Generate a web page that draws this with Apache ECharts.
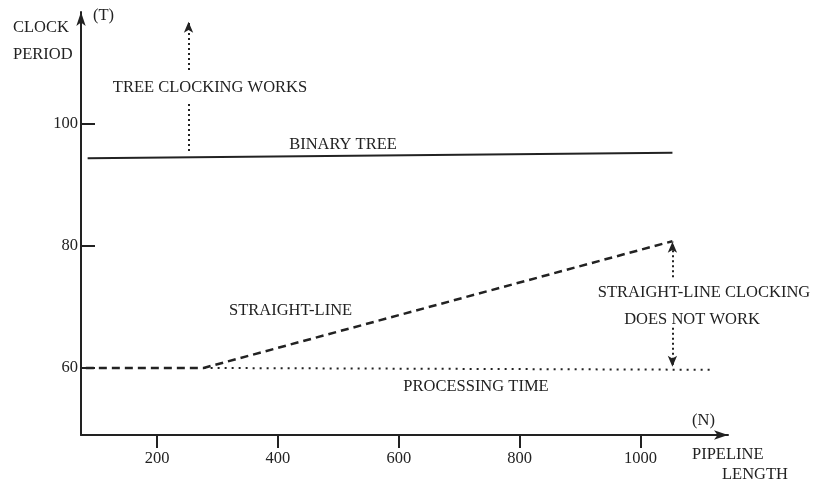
<!DOCTYPE html>
<html>
<head>
<meta charset="utf-8">
<script src="https://cdn.jsdelivr.net/npm/echarts@6/dist/echarts.min.js"></script>
<style>
  html, body { margin: 0; padding: 0; background: #fff; }
  #chart { width: 814px; height: 485px; }
</style>
</head>
<body>
<div id="chart"></div>
<script>
// Pipeline length (N) against clock period (T)
const xTicks = [200, 400, 600, 800, 1000];
const yTicks = [60, 80, 100];

const binaryTree = [[85, 94.4], [1053, 95.3]];
const straightLine = [[82, 60], [277, 60], [1053, 80.8]];
const processingTime = [[277, 60], [1116, 59.7]];

// Vertical annotation arrows: [x, fromY, toY]
const treeArrowLow = [252, 95.6, 103.4];
const treeArrowHigh = [252, 108.9, 116.8];
const gapArrowUp = [1053, 74.9, 80.7];
const gapArrowDown = [1053, 66.6, 60.2];

const ink = '#222';
const font = '"Liberation Serif", "DejaVu Serif", serif';
const fontSize = 16.5;

function arrowLine(a, withHead) {
  return [
    { coord: [a[0], a[1]], symbol: 'none' },
    { coord: [a[0], a[2]], symbol: withHead ? 'arrow' : 'none', symbolSize: [7, 11] }
  ];
}

const chart = echarts.init(document.getElementById('chart'), null, { renderer: 'canvas' });

// Free-standing annotations: [text, x, y, align]
const texts = [
  ['CLOCK', 13, 27.5, 'left'],
  ['PERIOD', 13, 54.5, 'left'],
  ['(T)', 93, 16, 'left'],
  ['TREE CLOCKING WORKS', 210, 87.5, 'center'],
  ['BINARY TREE', 343, 144.5, 'center'],
  ['STRAIGHT-LINE', 229, 310.5, 'left'],
  ['STRAIGHT-LINE CLOCKING', 704, 292.5, 'center'],
  ['DOES NOT WORK', 692, 319.5, 'center'],
  ['PROCESSING TIME', 476, 386.5, 'center'],
  ['(N)', 692, 421, 'left'],
  ['PIPELINE', 692, 454.5, 'left'],
  ['LENGTH', 722, 474.5, 'left']
];

chart.setOption({
  animation: false,
  backgroundColor: '#fff',
  grid: { left: 81, right: 86, top: 12, bottom: 50 },
  xAxis: {
    type: 'value',
    min: 74,
    max: 1145,
    splitLine: { show: false },
    axisLine: {
      onZero: false,
      symbol: ['none', 'arrow'],
      symbolSize: [7, 14],
      lineStyle: { color: ink, width: 2 }
    },
    axisTick: { customValues: xTicks, length: 13, lineStyle: { color: ink, width: 2 } },
    axisLabel: {
      customValues: xTicks,
      formatter: v => String(v),
      margin: 15,
      color: ink,
      fontFamily: font,
      fontSize: fontSize
    }
  },
  yAxis: {
    type: 'value',
    min: 49,
    max: 118.4,
    splitLine: { show: false },
    axisLine: {
      onZero: false,
      symbol: ['none', 'arrow'],
      symbolSize: [7, 14],
      lineStyle: { color: ink, width: 2 }
    },
    axisTick: { customValues: yTicks, inside: true, length: 14, lineStyle: { color: ink, width: 2 } },
    axisLabel: {
      customValues: yTicks,
      formatter: v => String(v),
      margin: 3,
      padding: [3, 0, 0, 0],
      color: ink,
      fontFamily: font,
      fontSize: fontSize
    }
  },
  series: [
    {
      name: 'BINARY TREE',
      type: 'line',
      data: binaryTree,
      symbol: 'none',
      lineStyle: { color: ink, width: 2 },
      markLine: {
        silent: true,
        label: { show: false },
        lineStyle: { color: ink, width: 2, type: [2, 3] },
        data: [arrowLine(treeArrowLow, false), arrowLine(treeArrowHigh, true)]
      }
    },
    {
      name: 'STRAIGHT-LINE',
      type: 'line',
      data: straightLine,
      symbol: 'none',
      lineStyle: { color: ink, width: 2.5, type: [8, 5] },
      markLine: {
        silent: true,
        label: { show: false },
        lineStyle: { color: ink, width: 2, type: [2, 3] },
        data: [arrowLine(gapArrowUp, true), arrowLine(gapArrowDown, true)]
      }
    },
    {
      name: 'PROCESSING TIME',
      type: 'line',
      data: processingTime,
      symbol: 'none',
      lineStyle: { color: ink, width: 2, type: [2, 5] }
    }
  ],
  graphic: texts.map(t => ({
    type: 'text',
    silent: true,
    style: {
      text: t[0],
      x: t[1],
      y: t[2],
      align: t[3],
      verticalAlign: 'middle',
      fill: ink,
      font: fontSize + 'px ' + font
    }
  }))
});
</script>
</body>
</html>
